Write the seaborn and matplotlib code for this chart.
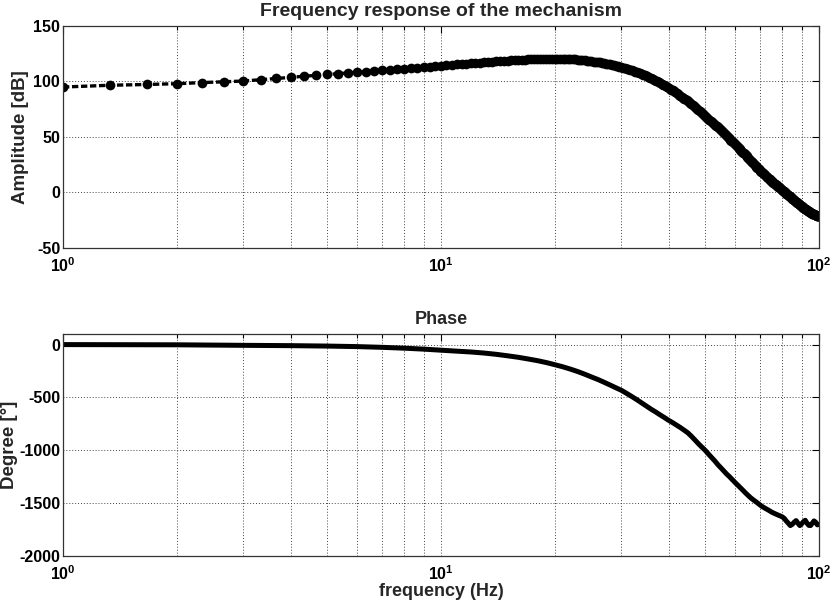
import numpy as np
import matplotlib
matplotlib.use("Agg")
import matplotlib.pyplot as plt
from matplotlib.ticker import LogLocator, LogFormatterMathtext, NullFormatter
import seaborn as sns

# amplitude samples, every 1/3 Hz from 1 to 100 Hz
freq_hz = np.arange(3, 301) / 3
amplitude_db = [
    95.0, 96.6, 97.3, 98.0, 99.0, 99.7, 100.4, 101.6, 102.7,
    103.7, 104.7, 105.5, 106.3, 107.0, 107.7, 108.4, 108.9, 109.5,
    110.1, 110.6, 111.1, 111.6, 112.1, 112.5, 113.0, 113.4, 113.9,
    114.3, 114.7, 115.0, 115.4, 115.7, 116.1, 116.4, 116.7, 117.0,
    117.3, 117.6, 117.8, 118.1, 118.3, 118.6, 118.8, 119.0, 119.2,
    119.4, 119.6, 119.7, 119.9, 120.0, 120.2, 120.3, 120.4, 120.5,
    120.6, 120.6, 120.7, 120.7, 120.7, 120.6, 120.6, 120.5, 120.4,
    120.3, 120.1, 120.0, 119.8, 119.6, 119.3, 119.1, 118.8, 118.6,
    118.3, 118.0, 117.7, 117.4, 117.1, 116.7, 116.4, 116.0, 115.7,
    115.3, 114.9, 114.5, 114.1, 113.7, 113.2, 112.8, 112.3, 111.9,
    111.4, 110.9, 110.4, 109.9, 109.4, 108.8, 108.3, 107.7, 107.2,
    106.6, 106.0, 105.4, 104.8, 104.1, 103.5, 102.8, 102.1, 101.5,
    100.8, 100.1, 99.4, 98.7, 98.0, 97.2, 96.5, 95.7, 95.0,
    94.2, 93.4, 92.7, 91.9, 91.1, 90.3, 89.5, 88.7, 87.9,
    87.1, 86.3, 85.4, 84.6, 83.8, 82.9, 82.1, 81.2, 80.4,
    79.5, 78.6, 77.8, 76.9, 76.0, 75.2, 74.3, 73.4, 72.6,
    71.7, 70.8, 69.9, 69.0, 68.1, 67.3, 66.4, 65.5, 64.7,
    63.8, 62.9, 62.1, 61.2, 60.3, 59.5, 58.6, 57.7, 56.9,
    56.0, 55.2, 54.3, 53.5, 52.7, 51.8, 51.0, 50.2, 49.3,
    48.5, 47.7, 46.8, 46.0, 45.2, 44.3, 43.5, 42.7, 41.8,
    41.0, 40.2, 39.3, 38.5, 37.7, 36.8, 36.0, 35.2, 34.3,
    33.5, 32.7, 31.9, 31.1, 30.3, 29.5, 28.7, 27.9, 27.1,
    26.3, 25.5, 24.8, 24.0, 23.2, 22.5, 21.7, 21.0, 20.2,
    19.5, 18.8, 18.2, 17.5, 16.8, 16.2, 15.5, 14.9, 14.2,
    13.6, 13.0, 12.4, 11.8, 11.2, 10.6, 10.0, 9.5, 8.9,
    8.4, 7.9, 7.3, 6.8, 6.3, 5.7, 5.2, 4.7, 4.1,
    3.6, 3.1, 2.5, 2.0, 1.5, 1.0, 0.5, 0.0, -0.5,
    -1.0, -1.5, -2.0, -2.5, -3.0, -3.5, -4.0, -4.5, -5.0,
    -5.5, -6.0, -6.4, -6.9, -7.4, -7.8, -8.3, -8.8, -9.2,
    -9.7, -10.2, -10.6, -11.1, -11.6, -12.0, -12.5, -12.9, -13.3,
    -13.7, -14.1, -14.5, -14.9, -15.3, -15.6, -16.0, -16.4, -16.7,
    -17.1, -17.4, -17.8, -18.1, -18.4, -18.7, -19.0, -19.3, -19.5,
    -19.8, -20.0, -20.3, -20.5, -20.7, -20.9, -21.1, -21.3, -21.4,
    -21.6,
]

# phase samples, every 1 Hz from 1 to 100 Hz
phase_freq_hz = np.arange(1, 101)
phase_deg = [
    0, -2, -7, -10, -14, -19, -26, -34, -43, -53,
    -62, -70, -80, -92, -106, -120, -136, -152, -170, -190,
    -210, -232, -255, -280, -306, -330, -356, -382, -408, -432,
    -462, -492, -522, -553, -583, -612, -638, -665, -690, -716,
    -738, -762, -785, -810, -835, -868, -903, -938, -970, -1000,
    -1035, -1068, -1100, -1135, -1165, -1195, -1225, -1250, -1278, -1305,
    -1330, -1355, -1380, -1405, -1428, -1450, -1468, -1485, -1502, -1520,
    -1535, -1548, -1560, -1572, -1585, -1595, -1604, -1613, -1621, -1630,
    -1645, -1670, -1690, -1712, -1700, -1680, -1665, -1690, -1712, -1695,
    -1675, -1662, -1690, -1710, -1712, -1690, -1668, -1680, -1705, -1700,
]

amp_yticks = [-50, 0, 50, 100, 150]
phase_yticks = [-2000, -1500, -1000, -500, 0]

sns.set_theme(style="white")
plt.rcParams['font.family'] = ['Liberation Sans', 'DejaVu Sans']
plt.rcParams['font.weight'] = 'bold'
plt.rcParams['axes.unicode_minus'] = False
plt.rcParams['mathtext.fontset'] = 'custom'
plt.rcParams['mathtext.rm'] = 'Liberation Sans:bold'
plt.rcParams['mathtext.bf'] = 'Liberation Sans:bold'
plt.rcParams['mathtext.default'] = 'bf'

fig = plt.figure(figsize=(8.3, 6), dpi=100)
ax1 = fig.add_axes([0.0759, 0.5867, 0.9108, 0.37])
ax2 = fig.add_axes([0.0759, 0.0733, 0.9108, 0.37])

sns.lineplot(x=freq_hz, y=amplitude_db, ax=ax1, color='black', linewidth=2.4,
             linestyle=(0, (1.9, 0.8)), marker='o', markersize=7,
             markeredgecolor='black', markeredgewidth=0)
sns.lineplot(x=phase_freq_hz, y=phase_deg, ax=ax2, color='black', linewidth=3.6)

for ax, yt, ylim in [(ax1, amp_yticks, (-50, 150)), (ax2, phase_yticks, (-2000, 100))]:
    ax.set_xscale('log')
    ax.set_xlim(1, 100)
    ax.set_ylim(*ylim)
    ax.set_yticks(yt)
    ax.xaxis.set_major_locator(LogLocator(base=10))
    ax.xaxis.set_minor_locator(LogLocator(base=10, subs=np.arange(2, 10)))
    ax.xaxis.set_major_formatter(LogFormatterMathtext())
    ax.xaxis.set_minor_formatter(NullFormatter())
    ax.grid(True, which='both', axis='x', color='#444444', linestyle=(0, (1, 2)), linewidth=0.7)
    ax.grid(True, which='major', axis='y', color='#444444', linestyle=(0, (1, 2)), linewidth=0.7)
    ax.tick_params(which='both', direction='in', top=True, right=True,
                   labelsize=11.5, colors='black', pad=2)
    ax.tick_params(axis='x', which='major', pad=6)
    ax.tick_params(which='major', length=5, width=0.8)
    ax.tick_params(which='minor', length=3, width=0.8)
    for s in ax.spines.values():
        s.set_color('#333333')
        s.set_linewidth(0.9)
    for lab in ax.get_yticklabels():
        lab.set_fontweight('bold')

ax1.set_title('Frequency response of the mechanism', fontsize=14, fontweight='bold', pad=7)
ax2.set_title('Phase', fontsize=13, fontweight='bold', pad=7)
ax1.set_ylabel('Amplitude [dB]', fontsize=13.5, fontweight='bold', labelpad=3)
ax2.set_ylabel('Degree [°]', fontsize=13.5, fontweight='bold', labelpad=1)
ax2.set_xlabel('frequency (Hz)', fontsize=13, fontweight='bold', labelpad=0)
ax1.set_xlabel('')

fig.savefig('out.png', dpi=100)
